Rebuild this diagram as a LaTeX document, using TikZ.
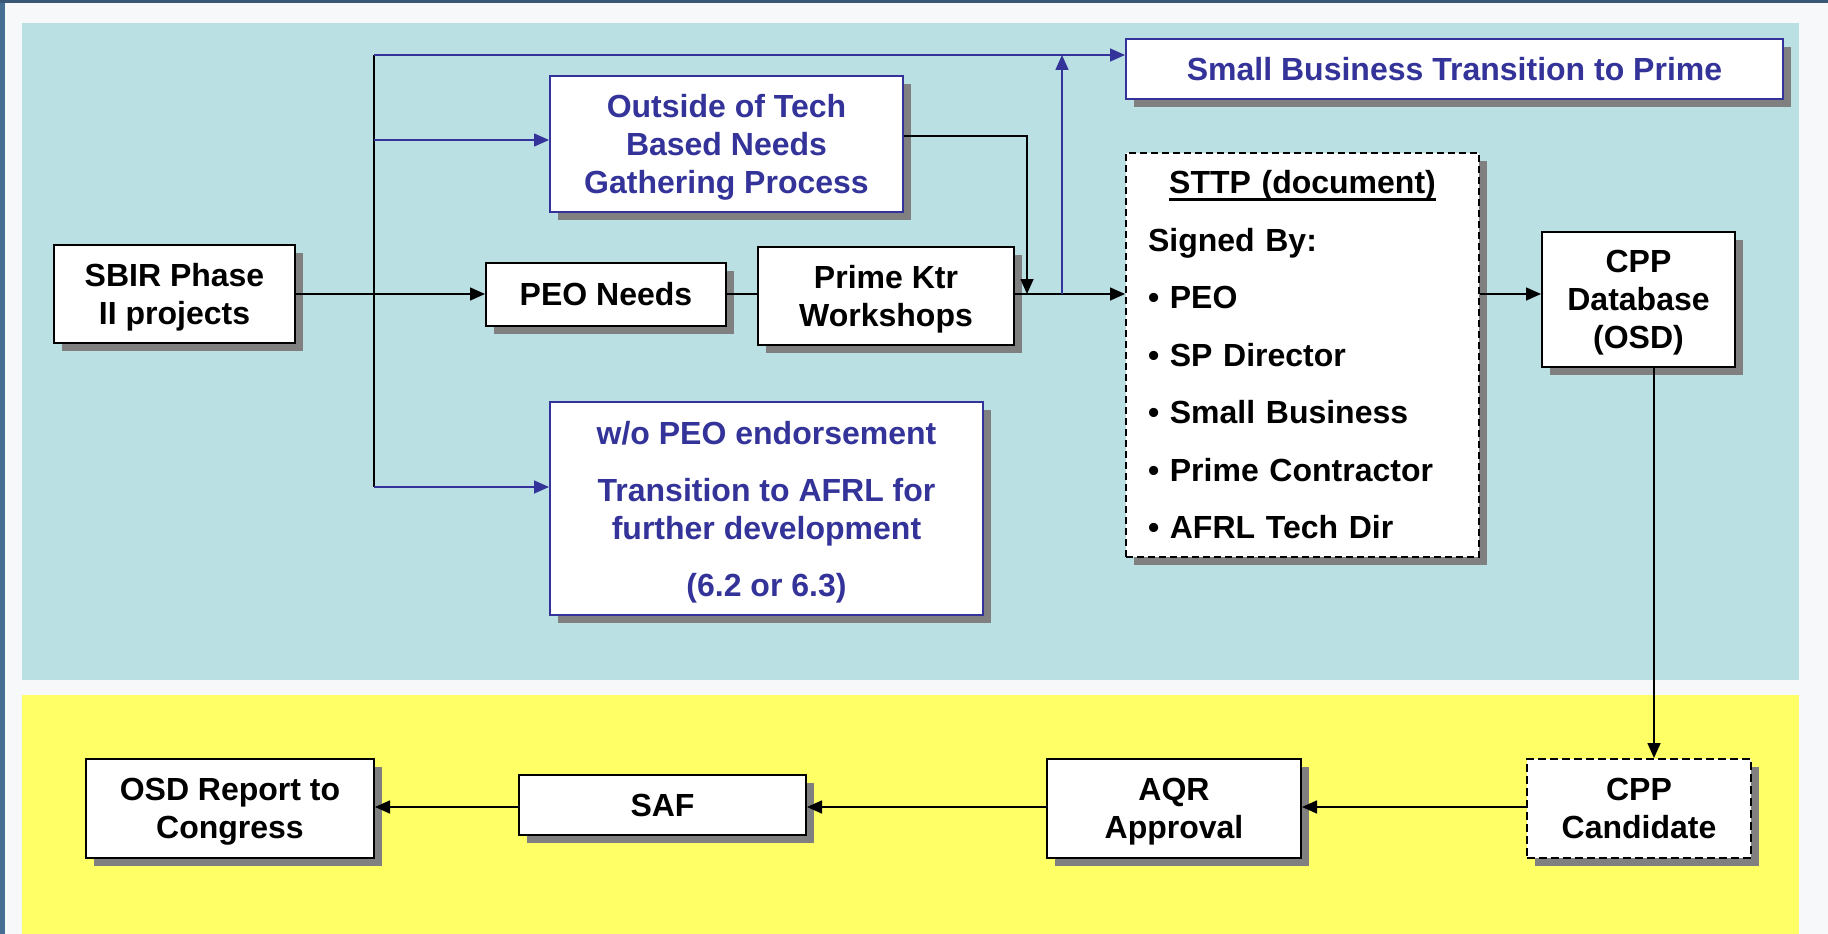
\documentclass[tikz,border=0pt]{standalone}
\usepackage{fontspec}
\setmainfont{Liberation Sans}
\usetikzlibrary{arrows.meta,shadows}
\definecolor{teal}{RGB}{186,224,227}
\definecolor{yel}{RGB}{255,255,102}
\definecolor{navy}{RGB}{51,51,153}
\definecolor{shade}{RGB}{128,128,128}
\definecolor{pagebg}{RGB}{247,248,250}
\definecolor{frameblue}{RGB}{70,110,146}
\newcommand\nd[1]{\raisebox{0pt}[\height][0pt]{#1}}
\newcommand\ulin[1]{\setbox0\hbox{#1}\rlap{\rule[-7.5pt]{\wd0}{3pt}}\box0}
\tikzset{
  box/.style={draw=black, line width=2pt, fill=white, inner sep=0pt, align=center,
    font=\fontsize{32}{38}\selectfont\bfseries,
    drop shadow={shadow xshift=8pt, shadow yshift=-8pt, fill=shade, opacity=1}},
  bluebox/.style={box, draw=navy, text=navy},
  dashbox/.style={box, dash pattern=on 8pt off 4pt},
  conn/.style={line width=1.6pt, black},
  bconn/.style={line width=1.6pt, navy},
  arr/.style={-{Triangle[length=15pt,width=13pt]}},
}
\begin{document}
\begin{tikzpicture}[x=1pt,y=-1pt]
\useasboundingbox (0,0) rectangle (1828,934);
% frame and panels
\fill[pagebg] (0,0) rectangle (1828,934);
\fill[frameblue] (0,0) rectangle (5,934);
\fill[frameblue!80!black] (0,0) rectangle (1828,3);
\fill[teal] (22,23) rectangle (1799,680);
\fill[yel] (22,695) rectangle (1799,934);

% nodes
\node[box, minimum width=241pt, minimum height=98pt] (sbir) at (174.5,294) {SBIR Phase\\\nd{II projects}};
\node[box, minimum width=240pt, minimum height=63pt] (peo) at (606,294.5) {PEO Needs};
\node[box, minimum width=256pt, minimum height=98pt] (prime) at (886,296) {Prime Ktr\\\nd{Workshops}};
\node[bluebox, minimum width=353pt, minimum height=136pt] (outside) at (726.5,144) {Outside of Tech\\Based Needs\\\nd{Gathering Process}};
\node[bluebox, minimum width=433pt, minimum height=213pt] (wo) at (766.5,508.5) {w/o PEO endorsement\\[19pt]Transition to AFRL for\\further development\\[19pt]\nd{(6.2 or 6.3)}};
\node[bluebox, minimum width=657pt, minimum height=60pt] (sb) at (1454.5,69) {Small Business Transition to Prime};
\node[dashbox, dash pattern=on 7pt off 4pt, minimum width=353pt, minimum height=404pt, text width=309pt, align=left, font=\fontsize{32}{57.5}\selectfont\bfseries] (sttp) at (1302.5,355)
  {\makebox[\linewidth][c]{\ulin{STTP (document)}}\\Signed By:\\• PEO\\• SP Director\\• Small Business\\• Prime Contractor\\• AFRL Tech Dir};
\node[box, minimum width=193pt, minimum height=135pt] (cppdb) at (1638.5,299.5) {CPP\\Database\\\nd{(OSD)}};
\node[dashbox, minimum width=224pt, minimum height=99pt] (cand) at (1639,808.5) {CPP\\Candidate};
\node[box, minimum width=254pt, minimum height=99pt] (aqr) at (1174,808.5) {AQR\\\nd{Approval}};
\node[box, minimum width=287pt, minimum height=60pt] (saf) at (662.5,805) {SAF};
\node[box, minimum width=288pt, minimum height=99pt] (osd) at (230,808.5) {OSD Report to\\\nd{Congress}};

% junction coordinates
\coordinate (vtop) at (374,55);
\coordinate (vmid) at (374,140);
\coordinate (vbot) at (374,487);
\coordinate (mainy) at (1027,294);
\coordinate (outbend) at (1027,136);
\coordinate (upfoot) at (1062,294);
\coordinate (dbfoot) at (1654,367);
\coordinate (boty) at (1400,807);

% connectors
\draw[conn] (vtop) -- (vbot);
\draw[bconn, arr] (vtop) -- (vtop -| sb.west);
\draw[bconn, arr] (vmid) -- (vmid -| outside.west);
\draw[bconn, arr] (vbot) -- (vbot -| wo.west);
\draw[conn, arr] (sbir.east |- mainy) -- (mainy -| peo.west);
\draw[conn] (peo.east |- mainy) -- (mainy -| prime.west);
\draw[conn, arr] (prime.east |- mainy) -- (mainy -| sttp.west);
\draw[conn, arr] (outbend -| outside.east) -- (outbend) -- (mainy);
\draw[bconn, arr] (upfoot) -- (upfoot |- vtop);
\draw[conn, arr] (sttp.east |- mainy) -- (mainy -| cppdb.west);
\draw[conn, arr] (dbfoot) -- (dbfoot |- cand.north);
\draw[conn, arr] (cand.west |- boty) -- (boty -| aqr.east);
\draw[conn, arr] (aqr.west |- boty) -- (boty -| saf.east);
\draw[conn, arr] (saf.west |- boty) -- (boty -| osd.east);
\end{tikzpicture}
\end{document}
